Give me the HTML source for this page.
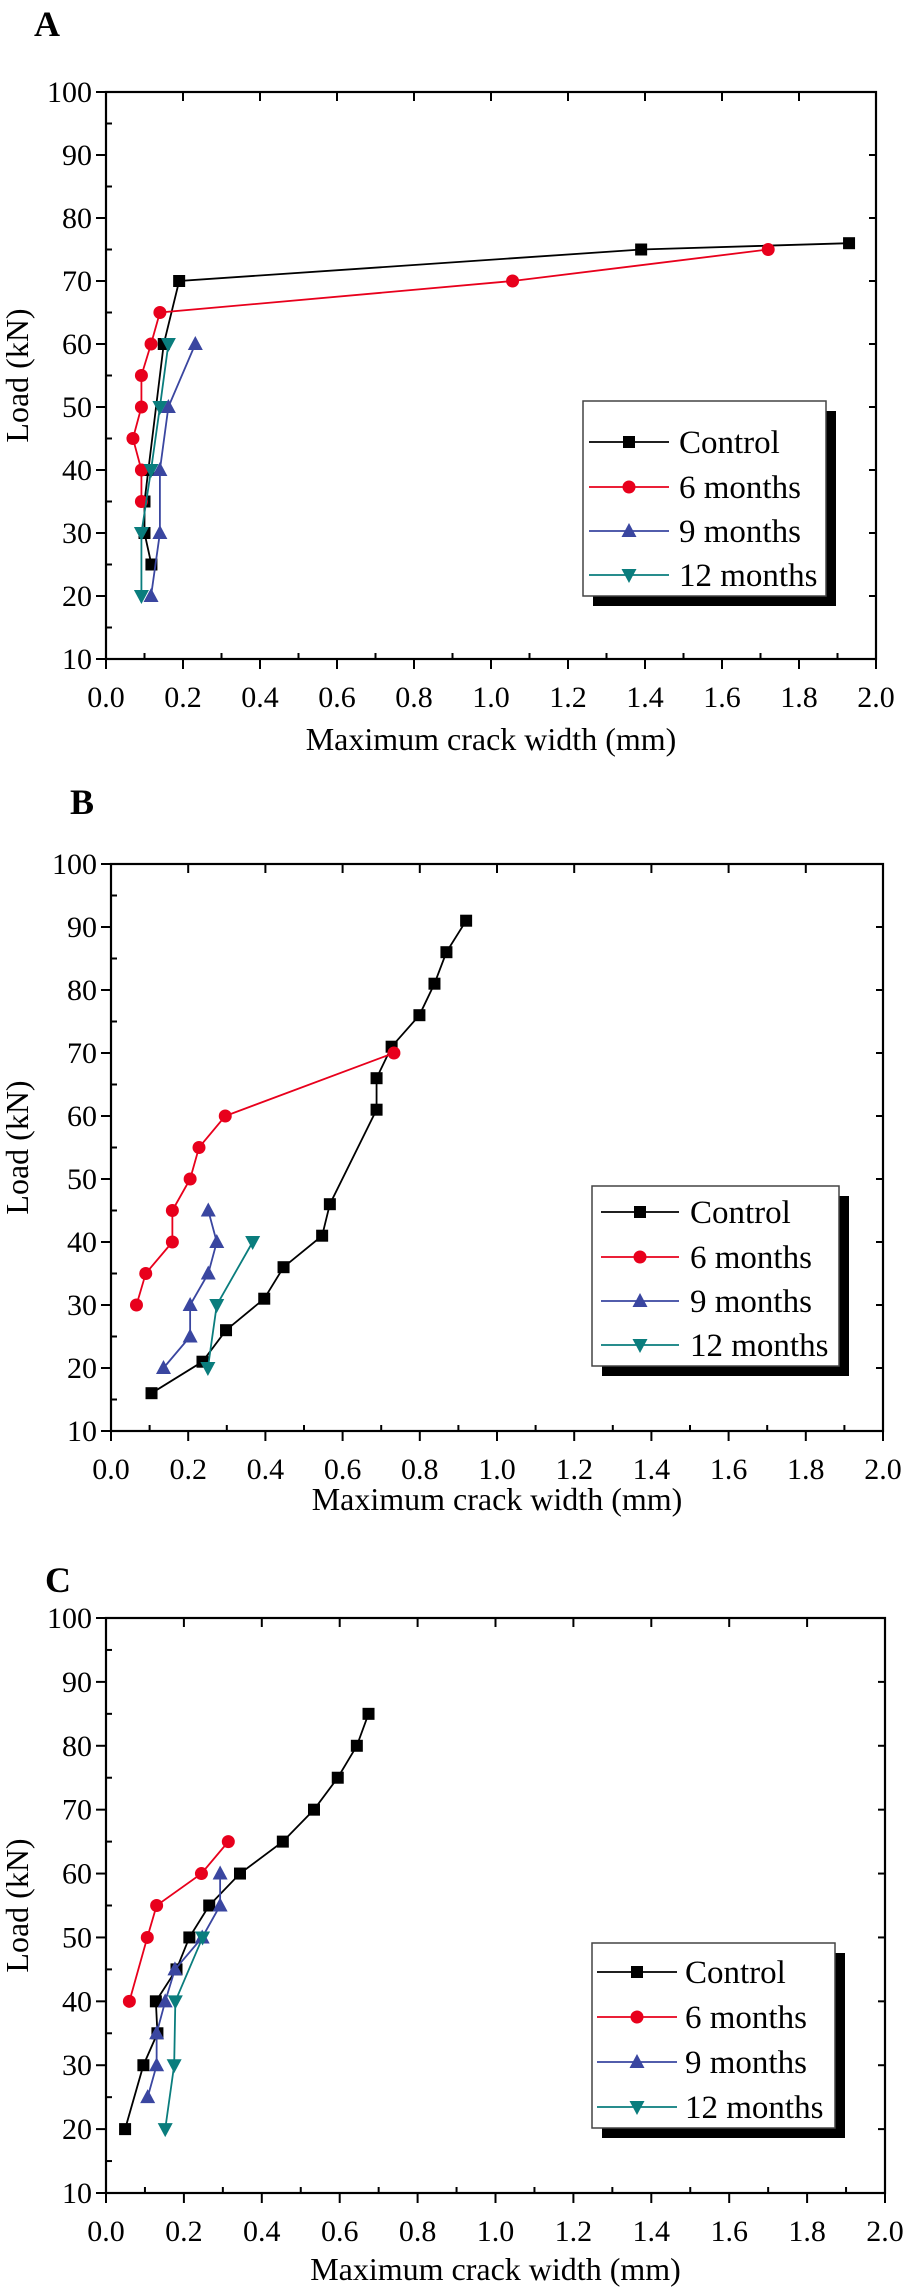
<!DOCTYPE html>
<html><head><meta charset="utf-8"><style>
html,body{margin:0;padding:0;background:#fff;}
svg{display:block;}
svg text{font-family:"Liberation Serif","Times New Roman",serif;}
</style></head><body>
<svg id="fig" width="906" height="2289" viewBox="0 0 906 2289" xmlns="http://www.w3.org/2000/svg" font-family="Liberation Serif, serif"></svg>
<script>
const seriesNames = ["Control","6 months","9 months","12 months"];
const seriesColors = ["#000000","#e8001c","#3a46a0","#0a7d7d"];
const xTicks = ["0.0","0.2","0.4","0.6","0.8","1.0","1.2","1.4","1.6","1.8","2.0"];
const yTicks = ["10","20","30","40","50","60","70","80","90","100"];

// Panel A
const aCtrlX = [0.118,0.10,0.10,0.11,0.15,0.19,1.39,1.93];
const aCtrlY = [25,30,35,40,60,70,75,76];
const a6X = [0.092,0.092,0.07,0.092,0.092,0.117,0.14,1.056,1.72];
const a6Y = [35,40,45,50,55,60,65,70,75];
const a9X = [0.117,0.14,0.14,0.162,0.232];
const a9Y = [20,30,40,50,60];
const a12X = [0.092,0.092,0.117,0.14,0.162];
const a12Y = [20,30,40,50,60];

// Panel B
const bCtrlX = [0.105,0.237,0.298,0.397,0.447,0.547,0.567,0.688,0.688,0.727,0.799,0.838,0.869,0.92];
const bCtrlY = [16,21,26,31,36,41,46,61,66,71,76,81,86,91];
const b6X = [0.066,0.09,0.159,0.159,0.205,0.228,0.296,0.733];
const b6Y = [30,35,40,45,50,55,60,70];
const b9X = [0.136,0.205,0.205,0.252,0.274,0.252];
const b9Y = [20,25,30,35,40,45];
const b12X = [0.251,0.274,0.367];
const b12Y = [20,30,40];

// Panel C
const cCtrlX = [0.049,0.096,0.132,0.128,0.181,0.214,0.265,0.344,0.454,0.534,0.595,0.644,0.674];
const cCtrlY = [20,30,35,40,45,50,55,60,65,70,75,80,85];
const c6X = [0.06,0.106,0.13,0.245,0.314];
const c6Y = [40,50,55,60,65];
const c9X = [0.107,0.13,0.13,0.152,0.177,0.247,0.293,0.293];
const c9Y = [25,30,35,40,45,50,55,60];
const c12X = [0.152,0.175,0.178,0.248];
const c12Y = [20,30,40,50];

const NS = "http://www.w3.org/2000/svg";
const svg = document.getElementById("fig");
const FONT = '"Liberation Serif", "Times New Roman", serif';
function mk(tag, attrs, parent){
  const e = document.createElementNS(NS, tag);
  for (const k in attrs) e.setAttribute(k, attrs[k]);
  if (tag==="text") e.setAttribute("font-family", FONT);
  (parent||svg).appendChild(e);
  return e;
}
function marker(g, kind, cx, cy, color){
  let m;
  if (kind===0) m = mk("rect",{x:cx-6,y:cy-6,width:12,height:12,fill:color},g);
  else if (kind===1) m = mk("circle",{cx:cx,cy:cy,r:6.5,fill:color},g);
  else if (kind===2) m = mk("polygon",{points:`${cx},${cy-8} ${cx-7.5},${cy+6} ${cx+7.5},${cy+6}`,fill:color},g);
  else m = mk("polygon",{points:`${cx},${cy+8} ${cx-7.5},${cy-6} ${cx+7.5},${cy-6}`,fill:color},g);
  return m;
}

const panels = [
  {id:"a", letter:"A", lx:47, ly:36, x0:106, x1:876, yt:92, yb:659, titleOff:80,
   data:[[aCtrlX,aCtrlY],[a6X,a6Y],[a9X,a9Y],[a12X,a12Y]],
   leg:{x:583,y:401,w:243,h:195,rows:[442,487,531,575],l0:589,l1:669,tx:679}},
  {id:"b", letter:"B", lx:82, ly:814, x0:111, x1:883, yt:864, yb:1431, titleOff:68,
   data:[[bCtrlX,bCtrlY],[b6X,b6Y],[b9X,b9Y],[b12X,b12Y]],
   leg:{x:592,y:1186,w:247,h:180,rows:[1212,1257,1301,1345],l0:601,l1:679,tx:690}},
  {id:"c", letter:"C", lx:58, ly:1592, x0:106, x1:885, yt:1618, yb:2193, titleOff:76,
   data:[[cCtrlX,cCtrlY],[c6X,c6Y],[c9X,c9Y],[c12X,c12Y]],
   leg:{x:592,y:1943,w:243,h:185,rows:[1972,2017,2062,2107],l0:597,l1:677,tx:685}}
];

panels.forEach(p=>{
  const g = mk("g",{});
  
  
  const xs = v => p.x0 + v/2*(p.x1-p.x0);
  const ys = v => p.yb - (v-10)/90*(p.yb-p.yt);

  const lt = mk("text",{x:p.lx,y:p.ly,"text-anchor":"middle","font-size":"36","font-weight":"bold"},g);
  lt.textContent = p.letter;
  
  

  const frame = mk("rect",{x:p.x0,y:p.yt,width:p.x1-p.x0,height:p.yb-p.yt,fill:"none",stroke:"#000","stroke-width":"2.2"},g);
  
  

  for (let i=0;i<xTicks.length;i++){
    const v = i*0.2, x = xs(v);
    mk("line",{x1:x,y1:p.yb,x2:x,y2:p.yb+10,stroke:"#000","stroke-width":"2"},g);
    mk("line",{x1:x,y1:p.yt,x2:x,y2:p.yt+9,stroke:"#000","stroke-width":"2"},g);
    if (i<xTicks.length-1){
      const xm = xs(v+0.1);
      mk("line",{x1:xm,y1:p.yb,x2:xm,y2:p.yb-6,stroke:"#000","stroke-width":"2"},g);
    }
    const t = mk("text",{x:x,y:p.yb+48,"text-anchor":"middle","font-size":"30"},g);
    t.textContent = xTicks[i];
    
    
  }
  for (let i=0;i<yTicks.length;i++){
    const v = 10+i*10, y = ys(v);
    mk("line",{x1:p.x0-10,y1:y,x2:p.x0,y2:y,stroke:"#000","stroke-width":"2"},g);
    mk("line",{x1:p.x1,y1:y,x2:p.x1-7,y2:y,stroke:"#000","stroke-width":"2"},g);
    if (i<yTicks.length-1){
      const ym = ys(v+5);
      mk("line",{x1:p.x0,y1:ym,x2:p.x0+6,y2:ym,stroke:"#000","stroke-width":"2"},g);
    }
    const t = mk("text",{x:p.x0-14,y:y+10,"text-anchor":"end","font-size":"30"},g);
    t.textContent = yTicks[i];
    
    
  }
  const xt = mk("text",{x:(p.x0+p.x1)/2,y:p.yb+p.titleOff+11,"text-anchor":"middle","font-size":"32"},g);
  xt.textContent = "Maximum crack width (mm)";
  
  
  const ycx = 17, ycy = (p.yt+p.yb)/2;
  const yt = mk("text",{x:ycx,y:ycy,"text-anchor":"middle","font-size":"32","dominant-baseline":"central",transform:`rotate(-90 ${ycx} ${ycy})`},g);
  yt.textContent = "Load (kN)";
  
  

  p.data.forEach((d,si)=>{
    const sg = mk("g",{},g);
    
    
    const pts = d[0].map((xv,k)=>xs(xv)+","+ys(d[1][k])).join(" ");
    const pl = mk("polyline",{points:pts,fill:"none",stroke:seriesColors[si],"stroke-width":"1.8"},sg);
    
    
    d[0].forEach((xv,k)=>{
      const m = marker(sg, si, xs(xv), ys(d[1][k]), seriesColors[si]);
      
      
    });
  });

  const L = p.leg;
  const lg = mk("g",{},g);
  
  
  mk("rect",{x:L.x+10,y:L.y+10,width:L.w,height:L.h,fill:"#000"},lg);
  mk("rect",{x:L.x,y:L.y,width:L.w,height:L.h,fill:"#fff",stroke:"#444","stroke-width":"1.5"},lg);
  L.rows.forEach((ry,si)=>{
    const eg = mk("g",{},lg);
    
    
    mk("line",{x1:L.l0,y1:ry,x2:L.l1,y2:ry,stroke:seriesColors[si],"stroke-width":"1.8"},eg);
    marker(eg, si, (L.l0+L.l1)/2, ry, seriesColors[si]);
    const t = mk("text",{x:L.tx,y:ry+11,"font-size":"33"},eg);
    t.textContent = seriesNames[si];
  });
});
</script>
</body></html>
